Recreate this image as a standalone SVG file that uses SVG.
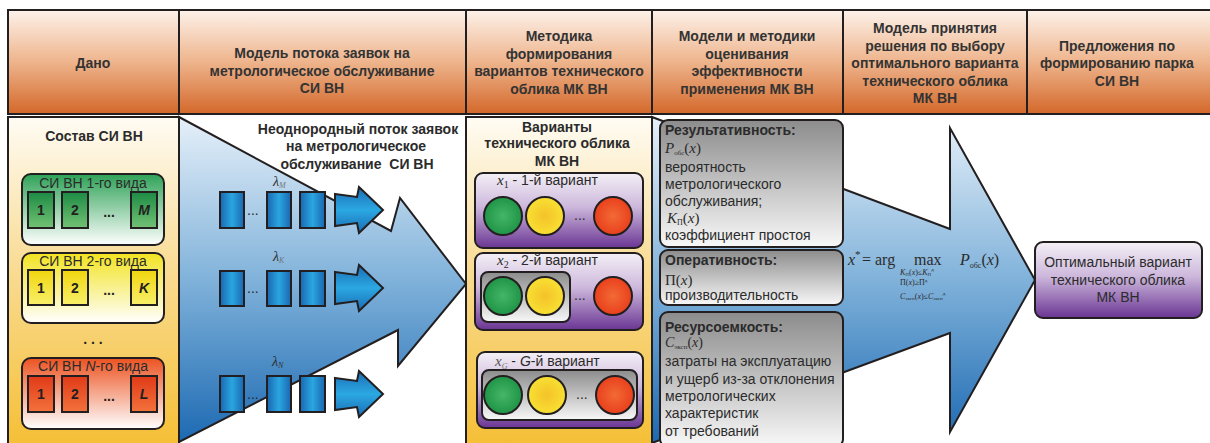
<svg xmlns="http://www.w3.org/2000/svg" width="1210" height="443" viewBox="0 0 1210 443">
<defs>
<linearGradient id="hdr" x1="0" y1="0" x2="0" y2="1"><stop offset="0" stop-color="#fdf2ea"/><stop offset="0.5" stop-color="#eeb48c"/><stop offset="1" stop-color="#d4682a"/></linearGradient>
<linearGradient id="colY" x1="0" y1="0" x2="0" y2="1"><stop offset="0" stop-color="#fffcf4"/><stop offset="0.45" stop-color="#f9dc95"/><stop offset="1" stop-color="#f5bf35"/></linearGradient>
<linearGradient id="arr" gradientUnits="userSpaceOnUse" x1="0" y1="117" x2="0" y2="443"><stop offset="0" stop-color="#e6f0f9"/><stop offset="0.5" stop-color="#80b2da"/><stop offset="1" stop-color="#1c69b2"/></linearGradient>
<linearGradient id="gG" x1="0" y1="0" x2="0" y2="1"><stop offset="0" stop-color="#2ea257"/><stop offset="1" stop-color="#ffffff"/></linearGradient>
<linearGradient id="gY" x1="0" y1="0" x2="0" y2="1"><stop offset="0" stop-color="#f2e320"/><stop offset="1" stop-color="#ffffff"/></linearGradient>
<linearGradient id="gO" x1="0" y1="0" x2="0" y2="1"><stop offset="0" stop-color="#ec5220"/><stop offset="1" stop-color="#ffffff"/></linearGradient>
<linearGradient id="bG" x1="0" y1="0" x2="0" y2="1"><stop offset="0" stop-color="#1d8a44"/><stop offset="1" stop-color="#72c274"/></linearGradient>
<linearGradient id="bY" x1="0" y1="0" x2="0" y2="1"><stop offset="0" stop-color="#f0d60e"/><stop offset="1" stop-color="#f9ef6a"/></linearGradient>
<linearGradient id="bO" x1="0" y1="0" x2="0" y2="1"><stop offset="0" stop-color="#e03a18"/><stop offset="1" stop-color="#f3723c"/></linearGradient>
<linearGradient id="pur" x1="0" y1="0" x2="0" y2="1"><stop offset="0" stop-color="#f4f0f6"/><stop offset="0.45" stop-color="#cdb8dc"/><stop offset="1" stop-color="#6a3593"/></linearGradient>
<linearGradient id="gry" x1="0" y1="0" x2="0" y2="1"><stop offset="0" stop-color="#8c8c8c"/><stop offset="1" stop-color="#f8f8f8"/></linearGradient>
<linearGradient id="sb" x1="0" y1="0" x2="1" y2="0"><stop offset="0" stop-color="#1a66b0"/><stop offset="0.5" stop-color="#2aa6e0"/><stop offset="1" stop-color="#1a66b0"/></linearGradient>
<linearGradient id="sa" x1="0" y1="0" x2="0" y2="1"><stop offset="0" stop-color="#1a6cb5"/><stop offset="0.5" stop-color="#2ba8e2"/><stop offset="1" stop-color="#1a6cb5"/></linearGradient>
<radialGradient id="cG" cx="0.5" cy="0.5" r="0.5"><stop offset="0" stop-color="#46b566"/><stop offset="1" stop-color="#1f9547"/></radialGradient>
<radialGradient id="cY" cx="0.5" cy="0.5" r="0.5"><stop offset="0" stop-color="#f5c22a"/><stop offset="1" stop-color="#f8e032"/></radialGradient>
<radialGradient id="cR" cx="0.5" cy="0.5" r="0.5"><stop offset="0" stop-color="#f26a35"/><stop offset="1" stop-color="#e9401c"/></radialGradient>
</defs>
<style>
text{font-family:"Liberation Sans",Arial,sans-serif;fill:#2b2b2b}
.hd{font-size:14px;font-weight:bold;text-anchor:middle;fill:#333}
.t{font-size:14px}
.b{font-weight:bold}
.c{text-anchor:middle}
.m{font-family:"Liberation Serif","Times New Roman",serif;font-style:italic}
.r{font-family:"Liberation Serif","Times New Roman",serif;font-style:normal}
.s{font-family:"Liberation Serif","Times New Roman",serif;font-style:italic;font-size:8px;fill:#777}
.sd{font-family:"Liberation Serif","Times New Roman",serif;font-style:italic;font-size:8px;fill:#333}
.ln{stroke:#231f20;stroke-width:2}
.hc{fill:url(#hdr);stroke:#231f20;stroke-width:2}
.sq{stroke:#231f20;stroke-width:2}
.cr{stroke:#231f20;stroke-width:2}
.num{font-size:14px;font-weight:bold;text-anchor:middle;fill:#231f20}
.it{font-style:italic}
</style>

<g id="header">
<rect class="hc" x="8" y="10" width="171" height="104"/>
<rect class="hc" x="179" y="10" width="287" height="104"/>
<rect class="hc" x="466" y="10" width="186" height="104"/>
<rect class="hc" x="652" y="10" width="191" height="104"/>
<rect class="hc" x="843" y="10" width="184" height="104"/>
<rect class="hc" x="1027" y="10" width="190" height="104"/>
<text class="hd" x="93" y="68">Дано</text>
<text class="hd" x="322" y="58">Модель потока заявок на</text>
<text class="hd" x="322" y="76">метрологическое обслуживание</text>
<text class="hd" x="322" y="93">СИ ВН</text>
<text class="hd" x="559" y="41">Методика</text>
<text class="hd" x="559" y="59">формирования</text>
<text class="hd" x="559" y="76">вариантов технического</text>
<text class="hd" x="559" y="94">облика МК ВН</text>
<text class="hd" x="747" y="41">Модели и методики</text>
<text class="hd" x="747" y="59">оценивания</text>
<text class="hd" x="747" y="76">эффективности</text>
<text class="hd" x="747" y="94">применения МК ВН</text>
<text class="hd" x="935" y="33">Модель принятия</text>
<text class="hd" x="935" y="51">решения по выбору</text>
<text class="hd" x="935" y="68">оптимального варианта</text>
<text class="hd" x="935" y="86">технического облика</text>
<text class="hd" x="935" y="103">МК ВН</text>
<text class="hd" x="1117" y="51">Предложения по</text>
<text class="hd" x="1117" y="68">формированию парка</text>
<text class="hd" x="1117" y="86">СИ ВН</text>
</g>

<g id="columns">
<rect x="8" y="117" width="171" height="330" fill="url(#colY)" class="ln"/>
<rect x="466" y="117" width="186" height="330" fill="url(#colY)" class="ln"/>
</g>

<g id="connectors">
<polygon id="flow-arrow" points="179,117 391,231 400,198 466,284 398,366 398,330 179,442" fill="url(#arr)" stroke="#231f20" stroke-width="2" stroke-linejoin="miter"/>
<polygon id="eval-arrow" points="652,117 950,229 950,128 1035,280 950,432 950,333 652,443" fill="url(#arr)" stroke="#231f20" stroke-width="2"/>
</g>

<g id="col1">
<text class="t b c" x="94" y="141">Состав СИ ВН</text>
<g id="type1">
<rect x="22" y="174" width="142" height="71" rx="9" fill="url(#gG)" class="sq"/>
<text class="t c" x="93" y="188">СИ ВН 1-го вида</text>
<rect x="28" y="192" width="26" height="36" fill="url(#bG)" class="sq"/>
<rect x="62" y="192" width="26" height="36" fill="url(#bG)" class="sq"/>
<rect x="131" y="192" width="26" height="36" fill="url(#bG)" class="sq"/>
<text class="num" x="41" y="215">1</text>
<text class="num" x="75" y="215">2</text>
<text class="num" x="109" y="217">...</text>
<text class="num it" x="144" y="215">M</text>
</g>
<g id="type2">
<rect x="22" y="253" width="142" height="70" rx="9" fill="url(#gY)" class="sq"/>
<text class="t c" x="93" y="266">СИ ВН 2-го вида</text>
<rect x="28" y="270" width="26" height="35" fill="url(#bY)" class="sq"/>
<rect x="62" y="270" width="26" height="35" fill="url(#bY)" class="sq"/>
<rect x="131" y="270" width="26" height="35" fill="url(#bY)" class="sq"/>
<text class="num" x="41" y="293">1</text>
<text class="num" x="75" y="293">2</text>
<text class="num" x="109" y="295">...</text>
<text class="num it" x="144" y="293">K</text>
</g>
<text class="num" x="93" y="344" font-size="16">. . .</text>
<g id="typeN">
<rect x="22" y="358" width="142" height="71" rx="9" fill="url(#gO)" class="sq"/>
<text class="t c" x="93" y="371">СИ ВН <tspan class="it">N</tspan>-го вида</text>
<rect x="28" y="376" width="26" height="36" fill="url(#bO)" class="sq"/>
<rect x="62" y="376" width="26" height="36" fill="url(#bO)" class="sq"/>
<rect x="131" y="376" width="26" height="36" fill="url(#bO)" class="sq"/>
<text class="num" x="41" y="399">1</text>
<text class="num" x="75" y="399">2</text>
<text class="num" x="109" y="401">...</text>
<text class="num it" x="144" y="399">L</text>
</g>
</g>

<g id="col2">
<text class="t b c" x="358" y="134">Неоднородный поток заявок</text>
<text class="t b c" x="356" y="151">на метрологическое</text>
<text class="t b c" x="357" y="169">обслуживание&#160; СИ ВН</text>
<g id="streamM">
<text class="m" x="273" y="186" font-size="14">λ<tspan class="s" dy="2">M</tspan></text>
<rect x="220" y="192" width="24" height="36" fill="url(#sb)" class="sq"/>
<text class="t" x="247" y="215">...</text>
<rect x="267" y="192" width="24" height="36" fill="url(#sb)" class="sq"/>
<rect x="300" y="192" width="25" height="36" fill="url(#sb)" class="sq"/>
<polygon points="335,194 357,197 359,187 383,210 359,233 357,223 335,226" fill="url(#sa)" class="sq"/>
</g>
<g id="streamK">
<text class="m" x="273" y="261" font-size="14">λ<tspan class="s" dy="2">K</tspan></text>
<rect x="220" y="271" width="24" height="35" fill="url(#sb)" class="sq"/>
<text class="t" x="247" y="293">...</text>
<rect x="267" y="271" width="24" height="35" fill="url(#sb)" class="sq"/>
<rect x="300" y="271" width="25" height="35" fill="url(#sb)" class="sq"/>
<polygon points="335,272 357,275 359,265 383,288 359,311 357,301 335,304" fill="url(#sa)" class="sq"/>
</g>
<g id="streamN">
<text class="m" x="272" y="366" font-size="14">λ<tspan class="sd" dy="2">N</tspan></text>
<rect x="220" y="376" width="24" height="36" fill="url(#sb)" class="sq"/>
<text class="t" x="247" y="399">...</text>
<rect x="267" y="376" width="24" height="36" fill="url(#sb)" class="sq"/>
<rect x="300" y="376" width="25" height="36" fill="url(#sb)" class="sq"/>
<polygon points="335,378 357,381 359,371 383,394 359,417 357,407 335,410" fill="url(#sa)" class="sq"/>
</g>
</g>

<g id="col3">
<text class="t b c" x="557" y="132">Варианты</text>
<text class="t b c" x="557" y="148">технического облика</text>
<text class="t b c" x="557" y="166">МК ВН</text>
<g id="variant1">
<rect x="475" y="173" width="168" height="75" rx="8" fill="url(#pur)" class="sq"/>
<text class="t" x="497" y="185"><tspan class="m" font-size="15">x</tspan><tspan class="r" font-size="10" dy="3">1</tspan><tspan dy="-3"> - 1-й вариант</tspan></text>
<circle cx="503" cy="216" r="19" fill="url(#cG)" class="cr"/>
<circle cx="545" cy="216" r="19" fill="url(#cY)" class="cr"/>
<text class="t" x="574" y="220">...</text>
<circle cx="613" cy="216" r="19" fill="url(#cR)" class="cr"/>
</g>
<g id="variant2">
<rect x="475" y="253" width="168" height="77" rx="8" fill="url(#pur)" class="sq"/>
<text class="t" x="497" y="265"><tspan class="m" font-size="15">x</tspan><tspan class="r" font-size="10" dy="3">2</tspan><tspan dy="-3"> - 2-й вариант</tspan></text>
<rect x="481" y="272" width="89" height="50" rx="7" fill="url(#gry)" class="sq"/>
<circle cx="503" cy="296" r="19" fill="url(#cG)" class="cr"/>
<circle cx="545" cy="296" r="19" fill="url(#cY)" class="cr"/>
<text class="t" x="574" y="300">...</text>
<circle cx="613" cy="296" r="19" fill="url(#cR)" class="cr"/>
</g>
<g id="variantG">
<rect x="477" y="352" width="166" height="76" rx="8" fill="url(#pur)" class="sq"/>
<text class="t" x="495" y="366"><tspan class="m" font-size="15" fill="#555">x</tspan><tspan class="s" dy="3">G</tspan><tspan dy="-3"> - </tspan><tspan class="it">G</tspan><tspan>-й вариант</tspan></text>
<rect x="482" y="370" width="155" height="50" rx="7" fill="url(#gry)" class="sq"/>
<circle cx="503" cy="395" r="19" fill="url(#cG)" class="cr"/>
<circle cx="547" cy="395" r="19" fill="url(#cY)" class="cr"/>
<text class="t" x="576" y="399">...</text>
<circle cx="615" cy="395" r="19" fill="url(#cR)" class="cr"/>
</g>
</g>

<g id="col4">
<g id="effectiveness">
<rect x="660" y="120" width="183" height="127" rx="8" fill="url(#gry)" class="sq"/>
<text class="t b" x="665" y="135">Результативность:</text>
<text class="t" x="665" y="153"><tspan class="m" font-size="15">P</tspan><tspan class="r" font-size="7" dy="2">обс</tspan><tspan class="r" font-size="15" dy="-2">(</tspan><tspan class="m" font-size="15">x</tspan><tspan class="r" font-size="15">)</tspan></text>
<text class="t" x="665" y="172">вероятность</text>
<text class="t" x="665" y="189">метрологического</text>
<text class="t" x="665" y="206">обслуживания;</text>
<text class="t" x="667" y="223"><tspan class="m" font-size="15">K</tspan><tspan class="r" font-size="8" dy="2">П</tspan><tspan class="r" font-size="15" dy="-2">(</tspan><tspan class="m" font-size="15">x</tspan><tspan class="r" font-size="15">)</tspan></text>
<text class="t" x="665" y="240">коэффициент простоя</text>
</g>
<g id="efficiency">
<rect x="660" y="250" width="183" height="55" rx="8" fill="url(#gry)" class="sq"/>
<text class="t b" x="665" y="265">Оперативность:</text>
<text class="t" x="665" y="285"><tspan class="r" font-size="15">Π(</tspan><tspan class="m" font-size="15">x</tspan><tspan class="r" font-size="15">)</tspan></text>
<text class="t" x="665" y="300">производительность</text>
</g>
<g id="resources">
<rect x="660" y="312" width="183" height="135" rx="8" fill="url(#gry)" class="sq"/>
<text class="t b" x="665" y="332">Ресурсоемкость:</text>
<text class="t" x="665" y="347"><tspan class="m" font-size="14">C</tspan><tspan class="r" font-size="7" dy="2">эксп</tspan><tspan class="r" font-size="14" dy="-2">(</tspan><tspan class="m" font-size="14">x</tspan><tspan class="r" font-size="14">)</tspan></text>
<text class="t" x="665" y="366">затраты на эксплуатацию</text>
<text class="t" x="665" y="384">и ущерб из-за отклонения</text>
<text class="t" x="665" y="401">метрологических</text>
<text class="t" x="665" y="418">характеристик</text>
<text class="t" x="665" y="436">от требований</text>
</g>
</g>

<g id="decision">
<text x="848" y="265" font-size="16"><tspan class="m">x</tspan><tspan class="r" dy="-7" font-size="11">*</tspan><tspan class="r" dy="7" x="862">=</tspan><tspan class="r" x="875">arg</tspan><tspan class="r" x="914">max</tspan><tspan class="m" x="960">P</tspan><tspan class="r" font-size="8" dy="3">обс</tspan><tspan class="r" dy="-3">(</tspan><tspan class="m">x</tspan><tspan class="r">)</tspan></text>
<text x="900" y="275" font-size="8" fill="#333"><tspan class="m">K</tspan><tspan class="r" font-size="5" dy="1">П</tspan><tspan class="r" dy="-1">(</tspan><tspan class="m">x</tspan><tspan class="r">)≤</tspan><tspan class="m">K</tspan><tspan class="r" font-size="5" dy="1">П</tspan><tspan class="r" font-size="5" dy="-5">д</tspan></text>
<text x="900" y="285" font-size="8" fill="#333"><tspan class="r">Π(</tspan><tspan class="m">x</tspan><tspan class="r">)≥Π</tspan><tspan class="r" font-size="5" dy="-3">д</tspan></text>
<text x="900" y="299" font-size="8" fill="#333"><tspan class="m">C</tspan><tspan class="r" font-size="5" dy="1">эксп</tspan><tspan class="r" dy="-1">(</tspan><tspan class="m">x</tspan><tspan class="r">)≤</tspan><tspan class="m">C</tspan><tspan class="r" font-size="5" dy="1">эксп</tspan><tspan class="r" font-size="5" dy="-5">д</tspan></text>
</g>

<g id="result">
<rect x="1035" y="242" width="167" height="76" rx="8" fill="url(#pur)" class="sq"/>
<text class="t c" x="1118" y="267">Оптимальный вариант</text>
<text class="t c" x="1118" y="285">технического облика</text>
<text class="t c" x="1118" y="302">МК ВН</text>
</g>
</svg>
